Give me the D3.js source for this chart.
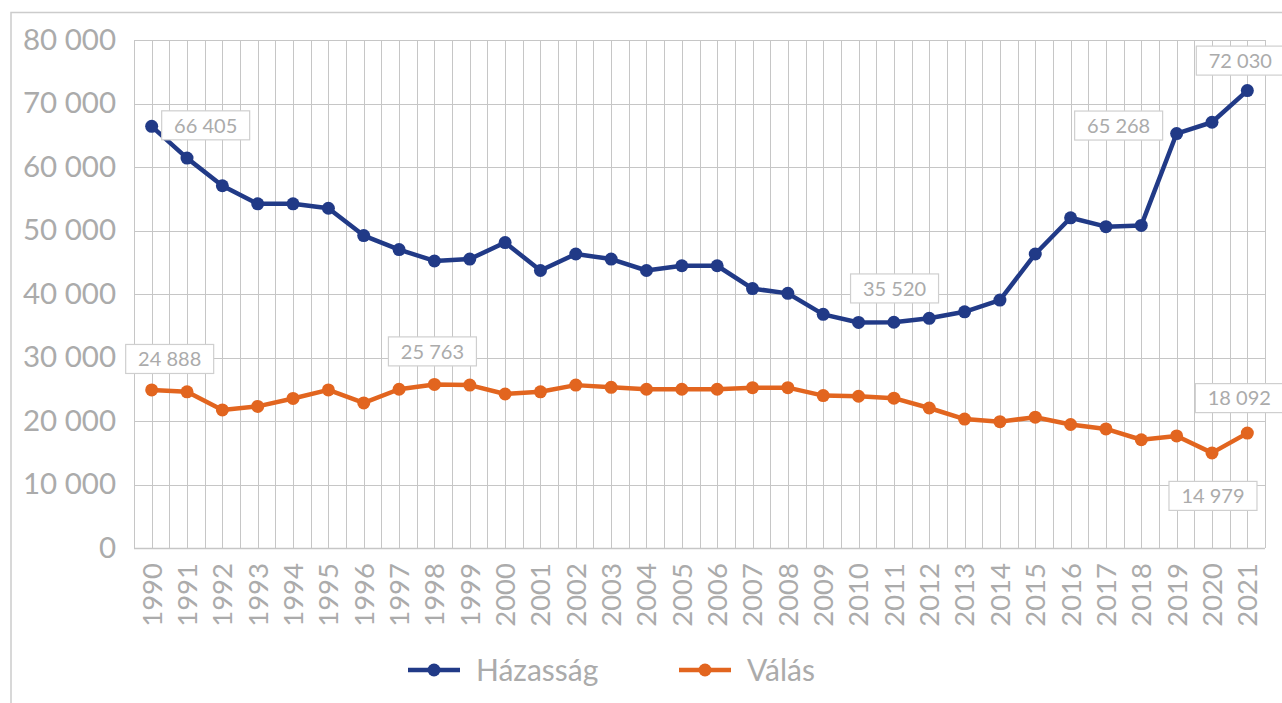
<!DOCTYPE html>
<html>
<head>
<meta charset="utf-8"/>
<title>Házasság és válás</title>
<script src="https://d3js.org/d3.v7.min.js"></script>
<style>
  body { margin: 0; background: #fff; }
  text { font-family: Lato, "Open Sans", sans-serif; }
</style>
</head>
<body>
<div id="chart"></div>
<script>
    // years on the x axis
    var years = [1990,1991,1992,1993,1994,1995,1996,1997,1998,1999,
                 2000,2001,2002,2003,2004,2005,2006,2007,2008,2009,
                 2010,2011,2012,2013,2014,2015,2016,2017,2018,2019,
                 2020,2021];

    // Házasság (marriages)
    var hazassag = [66405,61400,57050,54200,54200,53500,49200,47000,45200,45500,
                    48100,43700,46300,45500,43700,44450,44450,40850,40100,36800,
                    35520,35550,36170,37200,39050,46300,52000,50600,50800,65268,
                    67050,72030];

    // Válás (divorces)
    var valas = [24888,24600,21750,22300,23550,24900,22850,25000,25763,25650,
                 24250,24600,25650,25300,25000,25000,25000,25250,25250,24000,
                 23900,23600,22050,20300,19900,20600,19450,18750,17050,17650,
                 14979,18092];

    var yTicks = [0,10000,20000,30000,40000,50000,60000,70000,80000];

    var seriesNames = ["Házasság", "Válás"];
    var colors = ["#213a87", "#e2651f"];

    // which points get a value box: [series index, year, dx, dy]
    var labelled = [
        [0, 1990, 54, -1],
        [0, 2010, 36, -34],
        [0, 2019, -58, -8],
        [0, 2021, -7, -30],
        [1, 1990, 18, -31],
        [1, 1998, -2, -33],
        [1, 2020, 1, 43],
        [1, 2021, -8, -35]
    ];

    var W = 1282, H = 703;
    var margin = {top: 40, right: 17, bottom: 155, left: 134};
    var width = W - margin.left - margin.right,
        height = H - margin.top - margin.bottom;

    var fmt = function(v) { return d3.format(",")(v).replace(/,/g, " "); };

    var svg = d3.select("#chart")
        .append("svg")
        .attr("width", W)
        .attr("height", H);

    // outer frame
    svg.append("rect")
        .attr("x", 11).attr("y", 12.5)
        .attr("width", W).attr("height", H)
        .attr("fill", "none")
        .attr("stroke", "#cccccc")
        .attr("stroke-width", 1.5);

    var g = svg.append("g")
        .attr("transform", "translate(" + margin.left + "," + margin.top + ")");

    var x = d3.scaleBand()
        .domain(years)
        .range([0, width]);

    var y = d3.scaleLinear()
        .domain([0, 80000])
        .range([height, 0]);

    var cx = function(yr) { return x(yr) + x.bandwidth() / 2; };

    // vertical grid: band edges and band centres
    var vlines = [];
    years.forEach(function(yr) { vlines.push(x(yr)); vlines.push(cx(yr)); });
    vlines.push(width);
    g.selectAll(".vgrid")
        .data(vlines)
        .enter()
        .append("line")
        .attr("x1", function(d) { return Math.round(d) + 0.5; })
        .attr("x2", function(d) { return Math.round(d) + 0.5; })
        .attr("y1", 0).attr("y2", height)
        .attr("stroke", "#c6c6c6")
        .attr("stroke-width", 1);

    // horizontal grid
    g.selectAll(".hgrid")
        .data(yTicks)
        .enter()
        .append("line")
        .attr("x1", 0).attr("x2", width)
        .attr("y1", function(d) { return Math.round(y(d)) + 0.5; })
        .attr("y2", function(d) { return Math.round(y(d)) + 0.5; })
        .attr("stroke", "#c6c6c6")
        .attr("stroke-width", function(d) { return d === 0 ? 1.5 : 1; });

    // y axis
    var yAxis = g.append("g")
        .call(d3.axisLeft(y).tickValues(yTicks).tickSize(0).tickPadding(18).tickFormat(fmt));
    yAxis.select(".domain").remove();
    yAxis.selectAll("text")
        .attr("fill", "#ababab")
        .style("font-size", "29.5px");

    // x axis
    var xAxis = g.append("g")
        .attr("transform", "translate(0," + height + ")")
        .call(d3.axisBottom(x).tickSize(0));
    xAxis.select(".domain").remove();
    xAxis.selectAll("text")
        .attr("transform", "translate(0,15)rotate(-90)")
        .attr("x", 0).attr("y", 0)
        .attr("dy", "0.36em")
        .style("text-anchor", "end")
        .style("font-size", "27.5px")
        .attr("fill", "#ababab");

    // lines and markers
    var allSeries = [hazassag, valas];
    var line = d3.line()
        .x(function(d, i) { return cx(years[i]); })
        .y(function(d) { return y(d); });

    allSeries.forEach(function(vals, s) {
        g.append("path")
            .datum(vals)
            .attr("d", line)
            .attr("fill", "none")
            .attr("stroke", colors[s])
            .attr("stroke-width", 4.5)
            .attr("stroke-linejoin", "round");
        g.selectAll(".dot" + s)
            .data(vals)
            .enter()
            .append("circle")
            .attr("cx", function(d, i) { return cx(years[i]); })
            .attr("cy", function(d) { return y(d); })
            .attr("r", 6.5)
            .attr("fill", colors[s]);
    });

    // value boxes
    labelled.forEach(function(l) {
        var vals = allSeries[l[0]];
        var i = years.indexOf(l[1]);
        var px = cx(l[1]) + l[2], py = y(vals[i]) + l[3];
        var bw = 88, bh = 29;
        g.append("rect")
            .attr("x", px - bw / 2).attr("y", py - bh / 2)
            .attr("width", bw).attr("height", bh)
            .attr("fill", "#fff")
            .attr("stroke", "#cfcfcf")
            .attr("stroke-width", 1.2);
        g.append("text")
            .attr("x", px).attr("y", py)
            .attr("dy", "0.36em")
            .attr("text-anchor", "middle")
            .attr("fill", "#ababab")
            .style("font-size", "20px")
            .text(fmt(vals[i]));
    });

    // legend
    var legendX = [408, 679];
    var legend = svg.selectAll(".legend")
        .data(seriesNames)
        .enter()
        .append("g")
        .attr("transform", function(d, i) { return "translate(" + legendX[i] + ",670)"; });
    legend.append("line")
        .attr("x1", 0).attr("x2", 52)
        .attr("stroke", function(d, i) { return colors[i]; })
        .attr("stroke-width", 4.5);
    legend.append("circle")
        .attr("cx", 26).attr("r", 6.5)
        .attr("fill", function(d, i) { return colors[i]; });
    legend.append("text")
        .attr("x", 68)
        .attr("dy", "0.36em")
        .attr("fill", "#ababab")
        .style("font-size", "30px")
        .text(function(d) { return d; });
</script>
</body>
</html>
